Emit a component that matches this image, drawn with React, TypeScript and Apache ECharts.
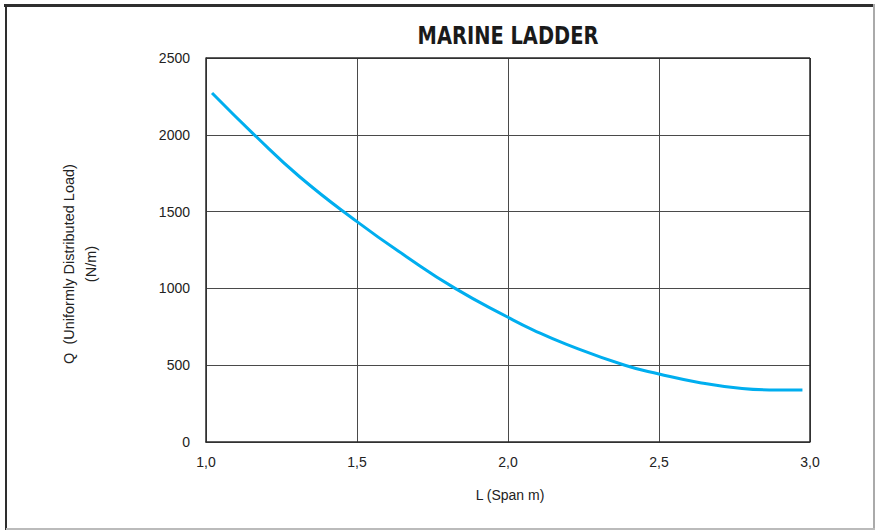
import React, { useEffect, useRef } from "react";
import * as echarts from "echarts";

const titleText = "MARINE LADDER";
const xAxisName = "L (Span m)";
const yAxisName = "Q  (Uniformly Distributed Load)\n(N/m)";

const spanValues = [1.02, 1.16, 1.31, 1.5, 1.665, 1.825, 2.0, 2.084, 2.194, 2.387, 2.5, 2.636, 2.768, 2.89, 2.975];
const loadValues = [2272, 2000, 1727, 1435, 1205, 1000, 812, 729, 636, 500, 443, 386, 350, 338, 338];

const xMin = 1.0;
const xMax = 3.0;
const xStep = 0.5;
const yMin = 0;
const yMax = 2500;
const yStep = 500;

export default function App() {
  const ref = useRef<HTMLDivElement>(null);
  useEffect(() => {
    if (!ref.current) return;
    const chart = echarts.init(ref.current, undefined, { renderer: "svg" });
    const font = "'Liberation Sans', Arial, Helvetica, sans-serif";
    chart.setOption({
      animation: false,
      backgroundColor: "#ffffff",
      grid: { left: 206, top: 58, width: 604, height: 384, containLabel: false, show: false },
      xAxis: {
        type: "value",
        min: xMin,
        max: xMax,
        interval: xStep,
        axisLine: { show: true, onZero: false, lineStyle: { color: "#2a2a2a", width: 1.5 } },
        axisTick: { show: false },
        splitLine: { show: true, lineStyle: { color: "#4a4a4a", width: 1 } },
        axisLabel: {
          color: "#222",
          fontFamily: font,
          fontSize: 14,
          margin: 13,
          formatter: (v: number) => v.toFixed(1).replace(".", ","),
        },
      },
      yAxis: {
        type: "value",
        min: yMin,
        max: yMax,
        interval: yStep,
        axisLine: { show: true, lineStyle: { color: "#2a2a2a", width: 1.5 } },
        axisTick: { show: false },
        splitLine: { show: true, lineStyle: { color: "#4a4a4a", width: 1 } },
        axisLabel: {
          color: "#222",
          fontFamily: font,
          fontSize: 14,
          margin: 16,
          formatter: (v: number) => String(Math.round(v)),
        },
      },
      series: [
        {
          type: "line",
          data: spanValues.map((x, i) => [x, loadValues[i]]),
          smooth: true,
          showSymbol: false,
          lineStyle: { color: "#00aeef", width: 3 },
          z: 5,
        },
      ],
      graphic: [
        { type: "line", shape: { x1: 206, y1: 58, x2: 810, y2: 58 }, style: { stroke: "#2a2a2a", lineWidth: 1.5 }, z: 10 },
        { type: "line", shape: { x1: 810, y1: 58, x2: 810, y2: 442 }, style: { stroke: "#2a2a2a", lineWidth: 1.5 }, z: 10 },
        { type: "line", shape: { x1: 4, y1: 5.5, x2: 875, y2: 5.5 }, style: { stroke: "#2e2e2e", lineWidth: 3 } },
        { type: "line", shape: { x1: 6, y1: 4, x2: 6, y2: 530 }, style: { stroke: "#2e2e2e", lineWidth: 2 } },
        { type: "line", shape: { x1: 874, y1: 4, x2: 874, y2: 530 }, style: { stroke: "#aaaaaa", lineWidth: 2 } },
        { type: "line", shape: { x1: 6, y1: 529, x2: 875, y2: 529 }, style: { stroke: "#bbbbbb", lineWidth: 2 } },
        {
          type: "text",
          x: 508,
          y: 36,
          scaleX: 0.9,
          style: {
            text: titleText,
            fill: "#1a1a1a",
            font: "bold 24px 'DejaVu Sans Condensed', 'DejaVu Sans', sans-serif",
            textAlign: "center",
            textVerticalAlign: "middle",
          },
        },
        {
          type: "text",
          x: 510,
          y: 495,
          style: {
            text: xAxisName,
            fill: "#222",
            font: "14px 'Liberation Sans', Arial, sans-serif",
            textAlign: "center",
            textVerticalAlign: "middle",
          },
        },
        {
          type: "text",
          x: 80,
          y: 264,
          rotation: Math.PI / 2,
          style: {
            text: yAxisName,
            fill: "#222",
            font: "14.5px 'Liberation Sans', Arial, sans-serif",
            textAlign: "center",
            textVerticalAlign: "middle",
            lineHeight: 22,
          },
        },
      ],
    });
    return () => chart.dispose();
  }, []);
  return <div ref={ref} style={{ position: "fixed", left: 0, top: 0, width: 877, height: 531 }} />;
}
